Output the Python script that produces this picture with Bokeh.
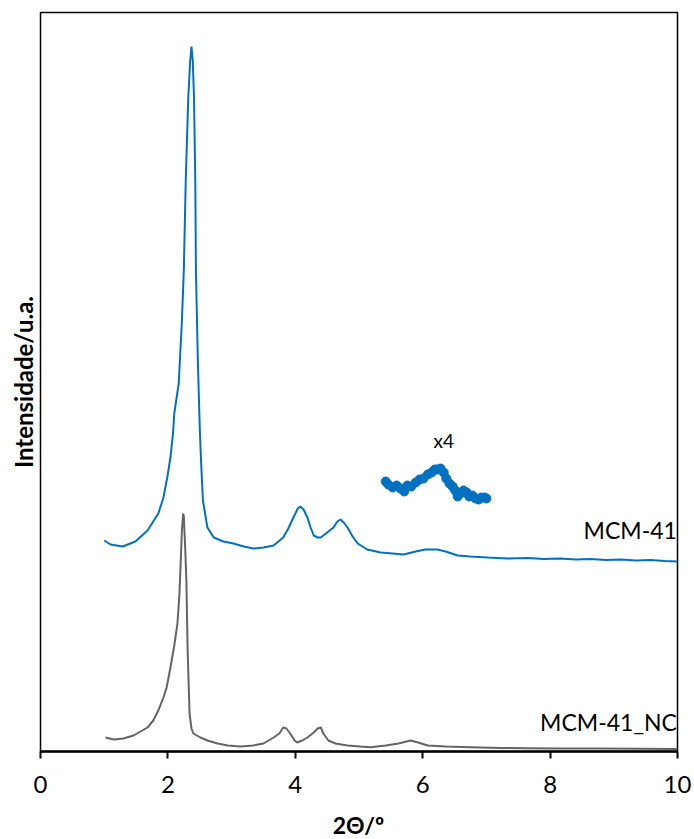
from bokeh.plotting import figure
from bokeh.models import Range1d, Label, FixedTicker, Div
from bokeh.layouts import column
from bokeh.embed import file_html
from bokeh.resources import INLINE

# --- data (2Theta in degrees, intensity in arbitrary units) ---
mcm41_2theta = [1.00, 1.10, 1.29, 1.49, 1.68, 1.85, 1.93, 1.99, 2.04, 2.08, 2.10, 2.17, 2.22, 2.25,
                2.28, 2.32, 2.35, 2.37, 2.39, 2.41, 2.43, 2.44, 2.47, 2.50, 2.52, 2.55, 2.62, 2.72,
                2.87, 3.03, 3.19, 3.34, 3.50, 3.66, 3.81, 3.89, 3.97, 4.04, 4.08, 4.13, 4.19, 4.24,
                4.29, 4.35, 4.40, 4.50, 4.60, 4.66, 4.71, 4.76, 4.82, 4.90, 4.98, 5.13, 5.34, 5.53,
                5.70, 5.89, 6.04, 6.23, 6.36, 6.55, 6.75, 7.02, 7.33, 7.65, 7.90, 8.16, 8.40, 8.63,
                8.88, 9.11, 9.35, 9.58, 9.80, 10.0]
mcm41_int = [211, 207, 205, 210, 221, 238, 254, 274, 294, 318, 338, 368, 431, 481,
             571, 654, 691, 705, 691, 654, 571, 481, 391, 324, 291, 251, 224, 214,
             210, 208, 205, 203, 204, 206, 214, 223, 234, 243, 245, 242, 234, 224,
             216, 214, 214, 219, 224, 230, 232, 229, 224, 215, 208, 202, 199, 198,
             197, 200, 202, 202, 200, 196, 195, 194, 193, 193.5, 192.5, 193, 192, 192.5,
             191.5, 192, 191, 191.5, 190.5, 190]

nc_2theta = [1.02, 1.15, 1.30, 1.46, 1.57, 1.68, 1.77, 1.85, 1.93, 1.98, 2.04, 2.10, 2.15, 2.18,
             2.20, 2.22, 2.24, 2.25, 2.27, 2.29, 2.31, 2.34, 2.37, 2.40, 2.51, 2.62, 2.78, 2.94,
             3.14, 3.34, 3.50, 3.66, 3.75, 3.81, 3.86, 3.92, 3.99, 4.03, 4.11, 4.19, 4.29, 4.35,
             4.40, 4.44, 4.52, 4.63, 4.82, 5.02, 5.18, 5.42, 5.62, 5.81, 5.93, 6.08, 6.36, 6.75,
             7.22, 7.65, 8.16, 8.79, 9.42, 10.0]
nc_int = [14, 12, 13, 16, 20, 24, 31, 41, 54, 64, 84, 106, 128, 156,
          188, 221, 238, 235, 206, 171, 101, 38, 23, 18, 14, 11, 8, 6,
          5, 6, 8, 14, 18, 24, 23, 18, 11, 9, 11, 14, 19, 23,
          24, 18, 11, 8, 6, 5, 4.3, 6, 8, 11, 9, 6, 5, 4.3,
          3.5, 3.3, 3, 3, 2.7, 2.5]

# magnified (x4) segment of MCM-41, shown above the curve
x4_2theta = [5.42, 5.46, 5.53, 5.59, 5.65, 5.71, 5.76, 5.82, 5.89, 5.95, 6.01, 6.08, 6.14, 6.19,
             6.23, 6.28, 6.33, 6.37, 6.42, 6.47, 6.51, 6.55, 6.59, 6.64, 6.69, 6.73, 6.78, 6.83,
             6.88, 6.92, 6.97, 7.00]
x4_int = [270, 267, 264, 266, 263, 260, 266, 265, 269, 272, 273, 277, 279, 282,
          282, 283, 279, 273, 268, 265, 261, 255, 258, 261, 259, 255, 256, 253,
          252, 254, 254, 253]

x_ticks = [0, 2, 4, 6, 8, 10]
series_labels = ["MCM-41", "MCM-41_NC"]
x_title = "2Θ/º"
y_title = "Intensidade/u.a."

FONT = "Lato"
BLUE = "#0070C0"
GRAY = "#646464"

p = figure(width=694, height=811, output_backend="svg", toolbar_location=None,
           x_range=Range1d(0, 10), y_range=Range1d(0, 739),
           min_border_left=40, min_border_right=17, min_border_top=12, min_border_bottom=60)
p.background_fill_color = "white"
p.border_fill_color = "white"
p.outline_line_color = "black"
p.outline_line_width = 1.5
p.grid.visible = False

p.line(mcm41_2theta, mcm41_int, line_color=BLUE, line_width=2)
p.line(nc_2theta, nc_int, line_color=GRAY, line_width=2)
p.line(x4_2theta, x4_int, line_color=BLUE, line_width=7, line_join="round", line_cap="round")
p.scatter(x4_2theta, x4_int, marker="circle", size=9, fill_color=BLUE, line_color=BLUE)

xa = p.xaxis[0]
xa.ticker = FixedTicker(ticks=x_ticks)
xa.axis_line_width = 2.5
xa.major_tick_line_width = 2
xa.major_tick_in = 0
xa.major_tick_out = 7
xa.minor_tick_line_color = None
xa.major_label_text_font = FONT
xa.major_label_text_font_size = "24px"
xa.major_label_text_color = "black"
xa.major_label_standoff = 17

ya = p.yaxis[0]
ya.ticker = FixedTicker(ticks=[])
ya.axis_line_color = None
ya.major_tick_line_color = None
ya.minor_tick_line_color = None
ya.major_label_standoff = 0
ya.axis_label = y_title
ya.axis_label_text_font = FONT
ya.axis_label_text_font_size = "24px"
ya.axis_label_text_font_style = "bold"
ya.axis_label_text_color = "black"
ya.axis_label_standoff = 3

p.add_layout(Label(x=9.99, y=222, text=series_labels[0], text_align="right",
                   text_baseline="alphabetic", text_font=FONT, text_font_size="23px",
                   text_color="black"))
p.add_layout(Label(x=9.99, y=30, text=series_labels[1], text_align="right",
                   text_baseline="alphabetic", text_font=FONT, text_font_size="23px",
                   text_color="black"))
p.add_layout(Label(x=6.33, y=311, text="x4", text_align="center",
                   text_baseline="alphabetic", text_font=FONT, text_font_size="19px",
                   text_color="black"))

# x-axis title, centred under the plot frame
title_div = Div(text=x_title, width=637, height=28, margin=(0, 0, 0, 40),
                styles={"font-family": FONT, "font-size": "23px", "font-weight": "bold",
                        "text-align": "center", "line-height": "28px", "color": "black"})

layout = column(p, title_div, spacing=0)
open("out.html", "w").write(file_html(layout, INLINE))
